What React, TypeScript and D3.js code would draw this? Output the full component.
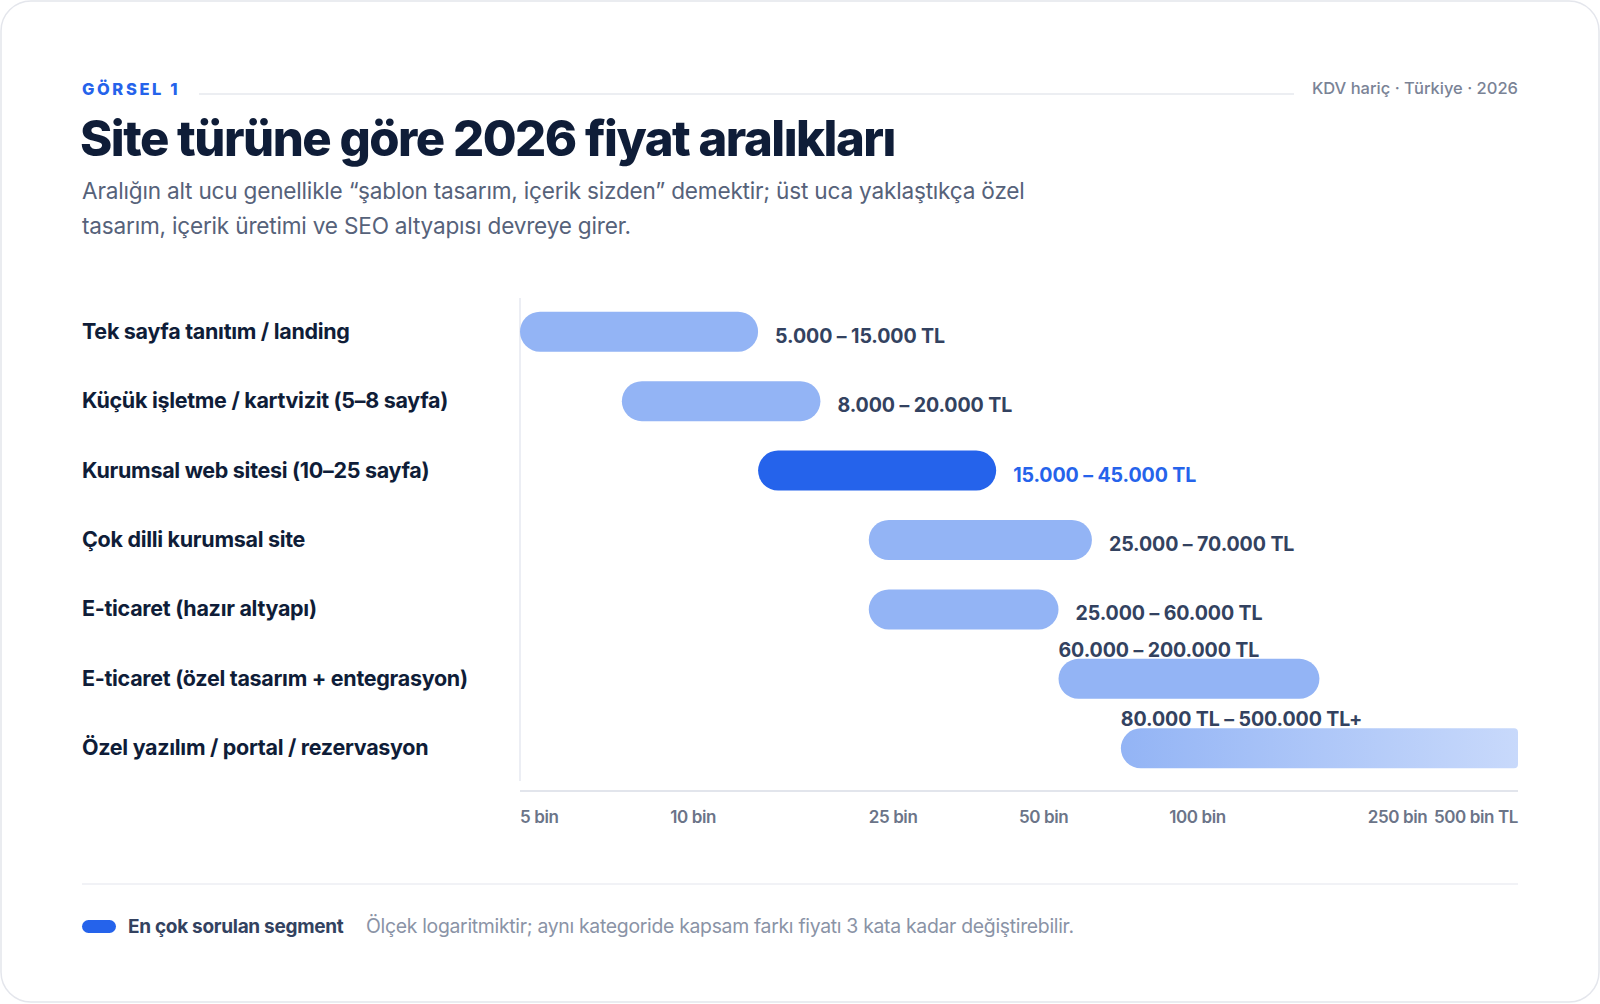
import React, { useEffect, useRef } from 'react';
import * as d3 from 'd3';

// Site türüne göre fiyat aralıkları (log ölçek)
const categories = [
  'Tek sayfa tanıtım / landing',
  'Küçük işletme / kartvizit (5–8 sayfa)',
  'Kurumsal web sitesi (10–25 sayfa)',
  'Çok dilli kurumsal site',
  'E-ticaret (hazır altyapı)',
  'E-ticaret (özel tasarım + entegrasyon)',
  'Özel yazılım / portal / rezervasyon',
];
const lows = [5000, 8000, 15000, 25000, 25000, 60000, 80000];
const highs = [15000, 20000, 45000, 70000, 60000, 200000, 500000];
const rangeLabels = [
  '5.000 – 15.000 TL',
  '8.000 – 20.000 TL',
  '15.000 – 45.000 TL',
  '25.000 – 70.000 TL',
  '25.000 – 60.000 TL',
  '60.000 – 200.000 TL',
  '80.000 TL – 500.000 TL+',
];
const highlighted = 'Kurumsal web sitesi (10–25 sayfa)';
const openEnded = 'Özel yazılım / portal / rezervasyon';
const tickValues = [5000, 10000, 25000, 50000, 100000, 250000, 500000];
const tickLabels = ['5 bin', '10 bin', '25 bin', '50 bin', '100 bin', '250 bin', '500 bin TL'];

const FONT = 'Inter, "Noto Sans", sans-serif';

export default function App() {
  const svgRef = useRef<SVGSVGElement>(null);

  useEffect(() => {
    if (!svgRef.current) return;
    const width = 1600;
    const height = 1004;
    const left = 82;
    const plot = { x0: 520, x1: 1518, y0: 297, y1: 783 };

    const svg = d3.select(svgRef.current).attr('width', width).attr('height', height);
    svg.selectAll('*').remove();

    const defs = svg.append('defs');
    const grad = defs.append('linearGradient').attr('id', 'fade').attr('x1', '0%').attr('x2', '100%');
    grad.append('stop').attr('offset', '0%').attr('stop-color', '#93b4f5');
    grad.append('stop').attr('offset', '100%').attr('stop-color', '#c8d9fb');

    // card
    svg.append('rect')
      .attr('x', 1).attr('y', 1).attr('width', width - 2).attr('height', height - 3)
      .attr('rx', 30).attr('fill', '#fff').attr('stroke', '#e4e6ec').attr('stroke-width', 1.5);

    // header
    svg.append('text').attr('x', left).attr('y', 95)
      .attr('font-family', FONT).attr('font-size', 16.5).attr('font-weight', 800)
      .attr('letter-spacing', 2.6).attr('fill', '#2563eb').text('GÖRSEL 1');
    svg.append('line').attr('x1', 199).attr('x2', 1294).attr('y1', 94).attr('y2', 94)
      .attr('stroke', '#e6e8ee').attr('stroke-width', 1.5);
    svg.append('text').attr('x', plot.x1).attr('y', 94).attr('text-anchor', 'end')
      .attr('font-family', FONT).attr('font-size', 16.5).attr('font-weight', 500)
      .attr('fill', '#7a8396').text('KDV hariç · Türkiye · 2026');

    svg.append('text').attr('x', left - 2).attr('y', 156)
      .attr('font-family', FONT).attr('font-size', 49).attr('font-weight', 800)
      .attr('letter-spacing', -1.5).attr('fill', '#0f1d38')
      .text('Site türüne göre 2026 fiyat aralıkları');

    const sub = svg.append('text').attr('font-family', FONT).attr('font-size', 22.6)
      .attr('font-weight', 400).attr('letter-spacing', -0.2).attr('fill', '#56627a');
    sub.append('tspan').attr('x', left).attr('y', 199)
      .text('Aralığın alt ucu genellikle “şablon tasarım, içerik sizden” demektir; üst uca yaklaştıkça özel');
    sub.append('tspan').attr('x', left).attr('y', 234)
      .text('tasarım, içerik üretimi ve SEO altyapısı devreye girer.');

    // scales
    const x = d3.scaleLog().domain([5000, 500000]).range([plot.x0, plot.x1]);
    const y = d3.scaleBand().domain(categories).range([plot.y0, plot.y1]);
    const barH = 40;

    // axes lines
    svg.append('line').attr('x1', plot.x0).attr('x2', plot.x0).attr('y1', 298).attr('y2', 781)
      .attr('stroke', '#e6e8f0').attr('stroke-width', 1.5);
    svg.append('line').attr('x1', plot.x0).attr('x2', plot.x1).attr('y1', 791).attr('y2', 791)
      .attr('stroke', '#e2e5ec').attr('stroke-width', 2);

    const last = tickValues.length - 1;
    svg.append('g').selectAll('text').data(tickValues).enter().append('text')
      .attr('x', (d, i) => (i === last ? plot.x1 : x(d)))
      .attr('y', 823)
      .attr('text-anchor', (_d, i) => (i === last ? 'end' : 'start'))
      .attr('font-family', FONT).attr('font-size', 17).attr('font-weight', 600)
      .attr('letter-spacing', -0.4).attr('fill', '#6b7488')
      .text((_d, i) => tickLabels[i]);

    // rows
    const rows = categories.map((c, i) => ({ c, lo: lows[i], hi: highs[i], label: rangeLabels[i] }));
    const g = svg.append('g');
    rows.forEach((r) => {
      const cy = (y(r.c) as number) + y.bandwidth() / 2;
      const hot = r.c === highlighted;
      g.append('text').attr('x', left).attr('y', cy + 7)
        .attr('font-family', FONT).attr('font-size', 21.5).attr('font-weight', 700)
        .attr('letter-spacing', -0.3).attr('fill', '#0f1d38').text(r.c);

      const bx0 = x(r.lo);
      const bx1 = x(r.hi);
      const top = cy - barH / 2;
      if (r.c === openEnded) {
        const rr = barH / 2;
        const rs = 4;
        const p = d3.path();
        p.moveTo(bx0 + rr, top);
        p.lineTo(bx1 - rs, top);
        p.arcTo(bx1, top, bx1, top + rs, rs);
        p.lineTo(bx1, top + barH - rs);
        p.arcTo(bx1, top + barH, bx1 - rs, top + barH, rs);
        p.lineTo(bx0 + rr, top + barH);
        p.arc(bx0 + rr, cy, rr, Math.PI / 2, (3 * Math.PI) / 2);
        p.closePath();
        g.append('path').attr('d', p.toString()).attr('fill', 'url(#fade)');
      } else {
        g.append('rect').attr('x', bx0).attr('y', top).attr('width', bx1 - bx0).attr('height', barH)
          .attr('rx', barH / 2).attr('fill', hot ? '#2563eb' : '#93b4f5');
      }

      const above = bx1 + 240 > plot.x1;
      g.append('text')
        .attr('x', above ? bx0 : bx1 + 17)
        .attr('y', above ? top - 2 : cy + 11)
        .attr('font-family', FONT).attr('font-size', 19.6).attr('font-weight', 700)
        .attr('letter-spacing', -0.1).attr('fill', hot ? '#2563eb' : '#334260').text(r.label);
    });

    // footer
    svg.append('line').attr('x1', left).attr('x2', plot.x1).attr('y1', 884).attr('y2', 884)
      .attr('stroke', '#eceef3').attr('stroke-width', 1.5);
    svg.append('rect').attr('x', left).attr('y', 920).attr('width', 34).attr('height', 13)
      .attr('rx', 6.5).attr('fill', '#2563eb');
    svg.append('text').attr('x', 128).attr('y', 933)
      .attr('font-family', FONT).attr('font-size', 19).attr('font-weight', 700)
      .attr('letter-spacing', -0.3).attr('fill', '#334260').text('En çok sorulan segment');
    svg.append('text').attr('x', 366).attr('y', 933)
      .attr('font-family', FONT).attr('font-size', 19.4).attr('font-weight', 400)
      .attr('letter-spacing', -0.3).attr('fill', '#8a93a6')
      .text('Ölçek logaritmiktir; aynı kategoride kapsam farkı fiyatı 3 kata kadar değiştirebilir.');
  }, []);

  return (
    <div style={{ position: 'fixed', left: 0, top: 0, background: '#fff' }}>
      <svg ref={svgRef} style={{ display: 'block' }}></svg>
    </div>
  );
}
